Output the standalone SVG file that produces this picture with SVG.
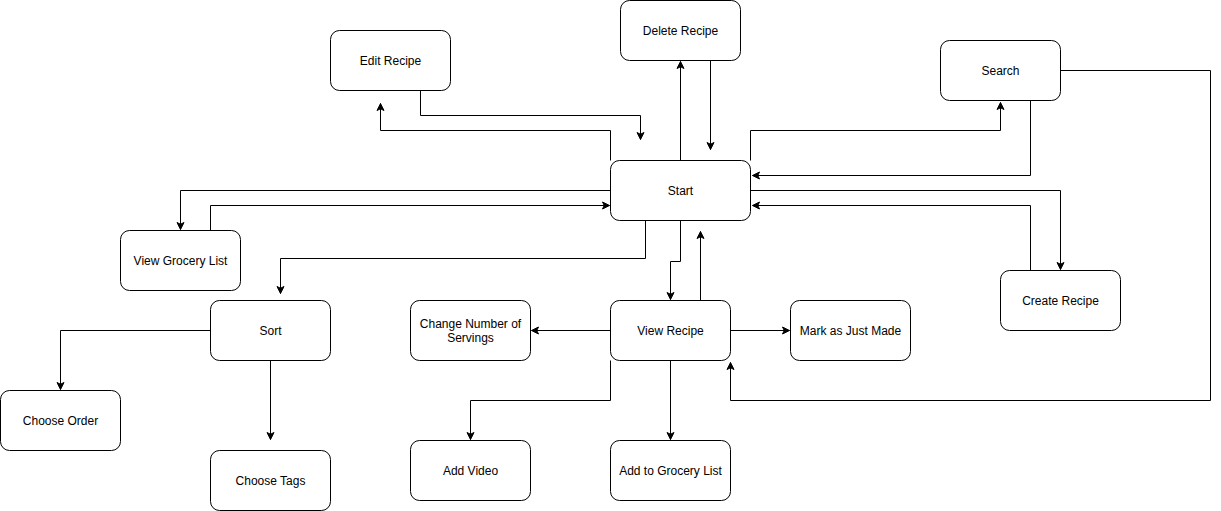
<svg xmlns="http://www.w3.org/2000/svg" width="1221" height="511" viewBox="0 0 1221 511">
<style>
.n rect{fill:#fff;stroke:#000;stroke-width:1}
.n text{font-family:"Liberation Sans",Arial,sans-serif;font-size:12px;fill:#000;text-anchor:middle;dominant-baseline:central}
.e path{fill:none;stroke:#000;stroke-width:1;marker-end:url(#arr)}
</style>
<defs>
<marker id="arr" markerUnits="userSpaceOnUse" markerWidth="10" markerHeight="10" refX="7" refY="3.5" orient="auto" overflow="visible">
<path d="M0,0 L7,3.5 L0,7 L1.75,3.5 Z" fill="#000" stroke="#000" stroke-width="1"/>
</marker>
</defs>
<rect width="1221" height="511" fill="#fff"/>
<g transform="translate(0.5,0.5)">
<g class="e" id="connectors">
<path d="M610,160 V130 H380 V103"/>
<path d="M420,90 V115 H640 V139"/>
<path d="M680,160 V61"/>
<path d="M710,60 V149"/>
<path d="M750,160 V130 H1000 V102"/>
<path d="M1030,100 V175 H752"/>
<path d="M1060,70 H1210 V400 H730 V362"/>
<path d="M750,190 H1060 V269"/>
<path d="M1030,270 V205 H752"/>
<path d="M610,190 H180 V229"/>
<path d="M210,230 V205 H609"/>
<path d="M645,220 V258 H280 V293"/>
<path d="M680,220 V261 H670 V299"/>
<path d="M700,300 V231"/>
<path d="M610,330 H531"/>
<path d="M730,330 H789"/>
<path d="M610,360 V400 H470 V439"/>
<path d="M670,360 V439"/>
<path d="M210,330 H60 V389"/>
<path d="M270,360 V439"/>
</g>
<g class="n" id="edit-recipe"><rect x="330" y="30" width="120" height="60" rx="9"/><text x="390" y="60">Edit Recipe</text></g>
<g class="n" id="delete-recipe"><rect x="620" y="0" width="120" height="60" rx="9"/><text x="680" y="30">Delete Recipe</text></g>
<g class="n" id="search"><rect x="940" y="40" width="120" height="60" rx="9"/><text x="1000" y="70">Search</text></g>
<g class="n" id="start"><rect x="610" y="160" width="140" height="60" rx="9"/><text x="680" y="190">Start</text></g>
<g class="n" id="view-grocery-list"><rect x="120" y="230" width="120" height="60" rx="9"/><text x="180" y="260">View Grocery List</text></g>
<g class="n" id="create-recipe"><rect x="1000" y="270" width="120" height="60" rx="9"/><text x="1060" y="300">Create Recipe</text></g>
<g class="n" id="sort"><rect x="210" y="300" width="120" height="60" rx="9"/><text x="270" y="330">Sort</text></g>
<g class="n" id="change-servings"><rect x="410" y="300" width="120" height="60" rx="9"/><text x="470" y="323">Change Number of</text><text x="470" y="337">Servings</text></g>
<g class="n" id="view-recipe"><rect x="610" y="300" width="120" height="60" rx="9"/><text x="670" y="330">View Recipe</text></g>
<g class="n" id="mark-just-made"><rect x="790" y="300" width="120" height="60" rx="9"/><text x="850" y="330">Mark as Just Made</text></g>
<g class="n" id="choose-order"><rect x="0" y="390" width="120" height="60" rx="9"/><text x="60" y="420">Choose Order</text></g>
<g class="n" id="choose-tags"><rect x="210" y="450" width="120" height="60" rx="9"/><text x="270" y="480">Choose Tags</text></g>
<g class="n" id="add-video"><rect x="410" y="440" width="120" height="60" rx="9"/><text x="470" y="470">Add Video</text></g>
<g class="n" id="add-grocery"><rect x="610" y="440" width="120" height="60" rx="9"/><text x="670" y="470">Add to Grocery List</text></g>
</g>
</svg>
